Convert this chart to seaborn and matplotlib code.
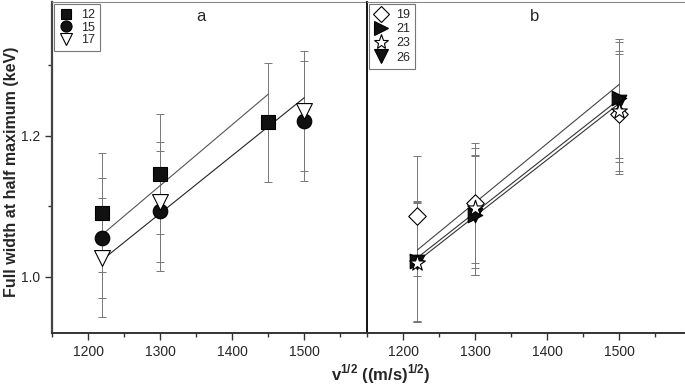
import matplotlib
matplotlib.use("Agg")
import matplotlib.pyplot as plt
from matplotlib.lines import Line2D
from matplotlib.ticker import MultipleLocator
import pandas as pd
import seaborn as sns

# panel a data
a_x12 = [1220, 1300, 1450]
a_y12 = [1.091, 1.146, 1.219]
a_x = [1220, 1300, 1500]
a_y15 = [1.055, 1.093, 1.221]
a_y17 = [1.027, 1.106, 1.235]

# panel b data
b_x = [1220, 1300, 1500]
b_y19 = [1.086, 1.105, 1.231]
b_y21 = [1.022, 1.087, 1.253]
b_y23 = [1.020, 1.097, 1.235]
b_y26 = [1.021, 1.088, 1.248]

err = 0.085

# fitted lines (end points)
fit_a_x = [[1220, 1450], [1220, 1500]]
fit_a_y = [[1.060, 1.259], [1.024, 1.254]]
fit_b_x = [[1220, 1500], [1220, 1500], [1220, 1500]]
fit_b_y = [[1.038, 1.273], [1.027, 1.252], [1.022, 1.246]]

sns.set_style("ticks")
plt.rcParams["font.family"] = ["Liberation Sans", "DejaVu Sans"]
plt.rcParams["mathtext.fontset"] = "custom"
plt.rcParams["mathtext.rm"] = "Liberation Sans"
plt.rcParams["mathtext.bf"] = "Liberation Sans:bold"

fig = plt.figure(figsize=(6.85, 3.88), dpi=100)
ax1 = fig.add_axes([0.0759, 0.1418, 0.4628, 0.853])
ax2 = fig.add_axes([0.5358, 0.1418, 0.4628, 0.853])

ECOL = "#777777"


def series(ax, x, y, marker, fc, size):
    ax.errorbar(x, y, yerr=err, fmt="none", ecolor=ECOL, elinewidth=0.7,
                capsize=3, capthick=0.7, zorder=2)
    df = pd.DataFrame({"x": x, "y": y})
    sns.scatterplot(data=df, x="x", y="y", marker=marker, s=size, color=fc,
                    edgecolor="black", linewidth=0.8, ax=ax, zorder=4,
                    legend=False)


def fits(ax, xs, ys, colors):
    for x, y, c in zip(xs, ys, colors):
        sns.lineplot(x=x, y=y, color=c, lw=0.8, ax=ax, zorder=3)


fits(ax1, fit_a_x, fit_a_y, ["#555555", "#222222"])
series(ax1, a_x12, a_y12, "s", "#111111", 90)
series(ax1, a_x, a_y15, "o", "#111111", 110)
series(ax1, a_x, a_y17, "v", "white", 130)

fits(ax2, fit_b_x, fit_b_y, ["#444444", "#333333", "#333333"])
series(ax2, b_x, b_y26, "v", "#111111", 110)
series(ax2, b_x, b_y21, ">", "#111111", 110)
series(ax2, b_x, b_y19, "D", "white", 80)
series(ax2, b_x, b_y23, "*", "white", 140)

for ax in (ax1, ax2):
    ax.set_xlim(1150, 1590)
    ax.set_ylim(0.92, 1.39)
    ax.set_xlabel("")
    ax.set_ylabel("")
    ax.xaxis.set_major_locator(MultipleLocator(100))
    ax.xaxis.set_minor_locator(MultipleLocator(50))
    ax.tick_params(axis="x", which="major", length=5, width=1, labelsize=10,
                   color="#333333")
    ax.tick_params(axis="x", which="minor", length=3, width=1, color="#333333")
    ax.spines["top"].set_color("#888888")
    ax.spines["top"].set_linewidth(0.8)
    ax.spines["bottom"].set_color("#333333")
    ax.spines["bottom"].set_linewidth(1.4)

ax1.yaxis.set_major_locator(MultipleLocator(0.2))
ax1.yaxis.set_minor_locator(MultipleLocator(0.1))
ax1.tick_params(axis="y", which="major", length=5, width=1, labelsize=10,
                color="#333333")
ax1.tick_params(axis="y", which="minor", length=3, width=1, color="#333333")
ax1.spines["left"].set_color("#444444")
ax1.spines["left"].set_linewidth(1.6)
ax1.spines["right"].set_visible(False)

# divider between panels is the left spine of panel b
ax2.tick_params(axis="y", which="both", left=False, labelleft=False)
ax2.spines["left"].set_color("black")
ax2.spines["left"].set_linewidth(1.3)
ax2.spines["right"].set_visible(False)

ax1.text(0.47, 0.955, "a", transform=ax1.transAxes, fontsize=12,
         ha="center", va="center")
ax2.text(0.53, 0.955, "b", transform=ax2.transAxes, fontsize=12,
         ha="center", va="center")


def handle(marker, fc, ms):
    return Line2D([], [], ls="none", marker=marker, markerfacecolor=fc,
                  markeredgecolor="black", markersize=ms, markeredgewidth=0.8)


leg_kw = dict(loc="upper left", fontsize=9, frameon=True, fancybox=False,
              edgecolor="#777777", framealpha=1, handlelength=1.2,
              handletextpad=0.6, borderpad=0.4, borderaxespad=0.15)
lg1 = ax1.legend([handle("s", "#111111", 7), handle("o", "#111111", 8),
                  handle("v", "white", 9)], ["12", "15", "17"],
                 labelspacing=0.05, **leg_kw)
lg1.get_frame().set_linewidth(0.8)
lg2 = ax2.legend([handle("D", "white", 8), handle(">", "#111111", 10),
                  handle("*", "white", 11), handle("v", "#111111", 10)],
                 ["19", "21", "23", "26"], labelspacing=0.18, **leg_kw)
lg2.get_frame().set_linewidth(0.8)

fig.text(0.0175, 0.557, "Full width at half maximum (keV)", rotation=90,
         fontsize=11.5, fontweight="bold", ha="center", va="center")
fig.text(0.556, 0.006, r"$\mathbf{v^{1/2}}$ ((m/s)$^{\mathbf{1/2}}$)",
         fontsize=12, fontweight="bold", ha="center", va="bottom")

fig.savefig("out.png", dpi=100)
